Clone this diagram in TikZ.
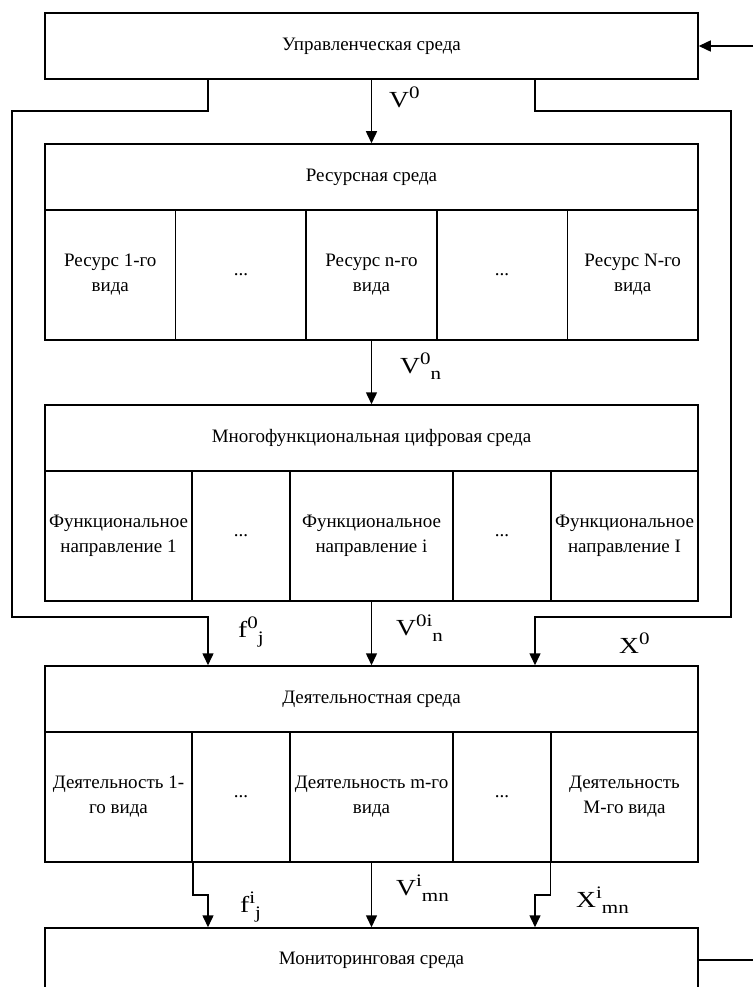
\documentclass[tikz,border=0pt]{standalone}
\usepackage{fontspec}
\setmainfont{Liberation Serif}
\newfontfamily\labfont{Liberation Serif}[FakeStretch=1.2]
\usetikzlibrary{arrows.meta,calc}
\newcommand{\suplab}[3]{#1\raisebox{9pt}{\fontsize{17.5}{17.5}\selectfont #2}\raisebox{-6pt}{\fontsize{17.5}{17.5}\selectfont #3}}
\tikzset{
 box/.style={draw, line width=1.5pt, minimum width=653pt, minimum height=66pt, inner sep=0pt, font=\fontsize{19}{25}\selectfont},
 cell/.style={draw, line width=1.5pt, inner sep=0pt, align=center, minimum height=130pt, font=\fontsize{19}{25}\selectfont},
 conn/.style={line width=1.5pt},
 arr/.style={conn, -{Triangle[length=12pt,width=11pt]}},
 lab/.style={anchor=base west, inner sep=0pt, font=\labfont\fontsize{23}{23}\selectfont},
}
\begin{document}
\begin{tikzpicture}[x=1pt,y=-1pt]
\useasboundingbox (0,0) rectangle (753,987);
\clip (0,0) rectangle (753,987);
\fill[white] (0,0) rectangle (753,987);
% boxes
\node[box] (top) at (371.5,46) {Управленческая среда};
\node[box] (res) at (371.5,177) {Ресурсная среда};
\node[cell, minimum width=130.6pt] (r1) at (110.3,275) {Ресурс 1-го\\вида};
\node[cell, minimum width=130.6pt] (r2) at (240.9,275) {...};
\node[cell, minimum width=130.6pt] (r3) at (371.5,275) {Ресурс n-го\\вида};
\node[cell, minimum width=130.6pt] (r4) at (502.1,275) {...};
\node[cell, minimum width=130.6pt] (r5) at (632.7,275) {Ресурс N-го\\вида};
\node[box] (mfd) at (371.5,438) {Многофункциональная цифровая среда};
\node[cell, minimum width=147pt] (m1) at (118.5,536) {Функциональное\\направление 1};
\node[cell, minimum width=98pt] (m2) at (241,536) {...};
\node[cell, minimum width=163pt] (m3) at (371.5,536) {Функциональное\\направление i};
\node[cell, minimum width=98pt] (m4) at (502,536) {...};
\node[cell, minimum width=147pt] (m5) at (624.5,536) {Функциональное\\направление I};
\node[box] (act) at (371.5,699) {Деятельностная среда};
\node[cell, minimum width=147pt] (a1) at (118.5,797) {Деятельность 1-\\го вида};
\node[cell, minimum width=98pt] (a2) at (241,797) {...};
\node[cell, minimum width=163pt] (a3) at (371.5,797) {Деятельность m-го\\вида};
\node[cell, minimum width=98pt] (a4) at (502,797) {...};
\node[cell, minimum width=147pt] (a5) at (624.5,797) {Деятельность\\M-го вида};
\node[box, minimum height=64pt] (mon) at (371.5,960) {Мониторинговая среда};
% coordinates
\coordinate (inR) at (753,46);
\coordinate (outR) at (753,960);
\coordinate (L0) at (208,0);
\coordinate (L1) at (12,111);
\coordinate (L2) at (208,617);
\coordinate (R0) at (535,0);
\coordinate (R1) at (731,111);
\coordinate (R2) at (535,617);
\coordinate (LB) at (208,895);
\coordinate (RB) at (535,895);
% connectors
\draw[arr] (inR) -- (top.east);
\draw[conn] (mon.east) -- (outR);
\draw[arr] (top.south) -- (res.north);
\draw[arr] (r3.south) -- (mfd.north);
\draw[arr] (m3.south) -- (act.north);
\draw[arr] (a3.south) -- (mon.north);
\draw[arr] (top.south -| L0) |- (L1) |- (L2) -- (act.north -| L2);
\draw[arr] (top.south -| R0) |- (R1) |- (R2) -- (act.north -| R2);
\draw[arr] (a1.south east) |- (LB) -- (mon.north -| LB);
\draw[arr] (a5.south west) |- (RB) -- (mon.north -| RB);
% labels
\node[lab] (lV0) at (389,108) {\suplab{V}{0}{}};
\node[lab] (lV0n) at (400,373) {\suplab{V}{0}{n}};
\node[lab] (lf0j) at (238,637) {\suplab{f}{0}{j}};
\node[lab] (lV0in) at (396,635) {\suplab{V}{0i}{n}};
\node[lab] (lX0) at (619,653) {\suplab{X}{0}{}};
\node[lab] (lfij) at (240,912) {\suplab{f}{i}{j}};
\node[lab] (lVimn) at (396,895) {\suplab{V}{i}{mn}};
\node[lab] (lXimn) at (576,907) {\suplab{X}{i}{mn}};
\end{tikzpicture}
\end{document}
